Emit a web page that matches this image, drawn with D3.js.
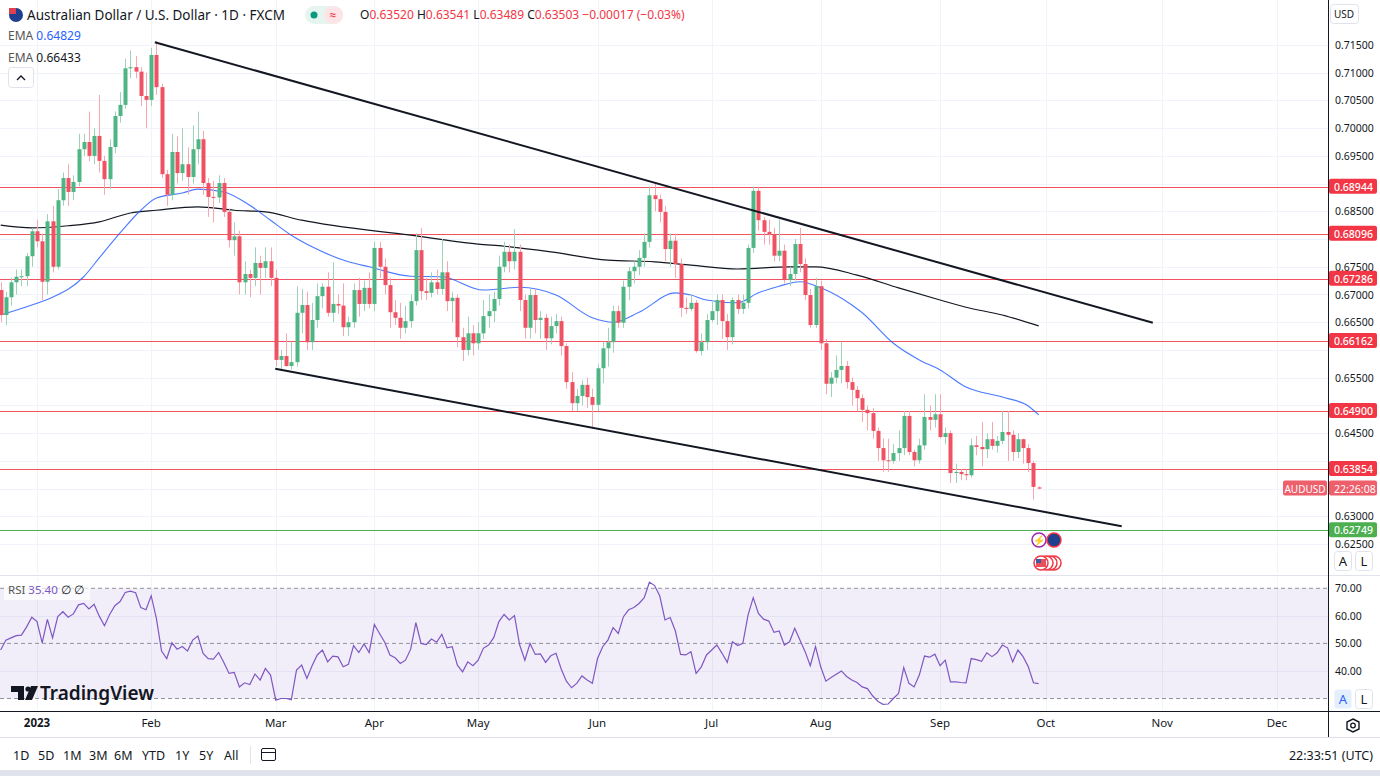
<!DOCTYPE html>
<html><head><meta charset="utf-8">
<script src="https://cdn.jsdelivr.net/npm/d3@7/dist/d3.min.js"></script>
<style>body{margin:0;background:#fff;font-family:"Noto Sans",Roboto,sans-serif}svg{display:block}</style>
</head><body><svg id="c" width="1380" height="776"></svg>
<script>
// ---- DATA ----
// daily candles AUDUSD, index 1 = 2022-12-22 ... index 201 = 2023-09-28 : [open, high, low, close]
const ohlc = [
[.6708,.6722,.6650,.6663],[.6663,.6705,.6645,.6695],[.6695,.6730,.6680,.6722],[.6722,.6745,.6700,.6732],[.6732,.6745,.6715,.6733],[.6733,.6775,.6715,.6769],[.6769,.6820,.6750,.6814],
[.6814,.6835,.6785,.6796],[.6796,.6810,.6690,.6723],[.6723,.6845,.6700,.6832],[.6832,.6860,.6740,.6750],[.6750,.6890,.6745,.6870],[.6870,.6920,.6860,.6910],[.6910,.6935,.6860,.6885],[.6885,.6915,.6870,.6903],[.6903,.6990,.6895,.6962],[.6962,.6990,.6950,.6975],[.6975,.7030,.6940,.6950],[.6950,.7000,.6935,.6986],[.6986,.7060,.6920,.6941],[.6941,.6950,.6880,.6908],[.6908,.6980,.6890,.6966],[.6966,.7030,.6955,.7022],[.7022,.7065,.7010,.7042],[.7042,.7125,.7035,.7108],[.7108,.7140,.7090,.7110],[.7110,.7130,.7090,.7102],[.7102,.7110,.7040,.7058],[.7058,.7100,.7000,.7051],
[.7051,.7145,.7040,.7132],[.7132,.7157,.7060,.7074],[.7074,.7080,.6910,.6917],[.6917,.6925,.6860,.6880],[.6880,.6990,.6870,.6957],[.6957,.6985,.6900,.6919],[.6919,.7000,.6905,.6935],[.6935,.6965,.6880,.6912],[.6912,.7005,.6900,.6962],[.6962,.7030,.6935,.6980],[.6980,.6995,.6880,.6901],[.6901,.6910,.6840,.6876],[.6876,.6905,.6830,.6875],[.6875,.6915,.6865,.6901],[.6901,.6910,.6840,.6849],[.6849,.6855,.6785,.6798],[.6798,.6830,.6770,.6805],[.6805,.6815,.6700,.6722],[.6722,.6760,.6700,.6737],[.6737,.6745,.6695,.6730],
[.6730,.6785,.6715,.6757],[.6757,.6770,.6700,.6748],[.6748,.6785,.6730,.6760],[.6760,.6785,.6715,.6730],[.6730,.6745,.6570,.6582],[.6582,.6600,.6565,.6589],[.6589,.6630,.6570,.6571],[.6571,.6615,.6565,.6578],[.6578,.6715,.6570,.6667],[.6667,.6710,.6630,.6681],[.6681,.6705,.6600,.6614],[.6614,.6685,.6600,.6654],[.6654,.6720,.6640,.6697],[.6697,.6720,.6675,.6714],[.6714,.6740,.6660,.6667],[.6667,.6758,.6650,.6683],[.6683,.6700,.6665,.6680],[.6680,.6720,.6625,.6641],[.6641,.6660,.6625,.6650],[.6650,.6720,.6640,.6708],[.6708,.6730,.6660,.6683],[.6683,.6725,.6670,.6712],[.6712,.6740,.6675,.6683],
[.6683,.6795,.6670,.6784],[.6784,.6795,.6730,.6750],[.6750,.6765,.6700,.6717],[.6717,.6730,.6640,.6668],[.6668,.6690,.6645,.6658],[.6658,.6685,.6620,.6640],[.6640,.6680,.6630,.6652],[.6652,.6700,.6640,.6688],[.6688,.6810,.6680,.6780],[.6780,.6820,.6690,.6706],[.6706,.6730,.6690,.6703],[.6703,.6740,.6695,.6722],[.6722,.6745,.6700,.6710],[.6710,.6800,.6700,.6740],[.6740,.6760,.6670,.6688],[.6688,.6705,.6650,.6694],[.6694,.6700,.6605,.6623],[.6623,.6640,.6580,.6600],[.6600,.6660,.6590,.6630],[.6630,.6645,.6590,.6612],
[.6612,.6650,.6600,.6630],[.6630,.6690,.6620,.6661],[.6661,.6700,.6640,.6670],[.6670,.6705,.6650,.6692],[.6692,.6770,.6680,.6750],[.6750,.6795,.6740,.6777],[.6777,.6790,.6740,.6760],[.6760,.6818,.6745,.6777],[.6777,.6790,.6670,.6690],[.6690,.6700,.6620,.6640],[.6640,.6710,.6620,.6699],[.6699,.6710,.6630,.6654],[.6654,.6670,.6620,.6658],[.6658,.6665,.6600,.6621],[.6621,.6660,.6610,.6643],[.6643,.6665,.6630,.6652],[.6652,.6660,.6590,.6607],[.6607,.6612,.6530,.6542],[.6542,.6560,.6490,.6504],[.6504,.6530,.6490,.6517],[.6517,.6545,.6500,.6537],[.6537,.6550,.6495,.6515],[.6515,.6530,.6458,.6501],
[.6501,.6575,.6490,.6567],[.6567,.6615,.6540,.6603],[.6603,.6640,.6570,.6614],[.6614,.6680,.6595,.6670],[.6670,.6680,.6640,.6649],[.6649,.6725,.6640,.6714],[.6714,.6750,.6690,.6742],[.6742,.6760,.6720,.6750],[.6750,.6780,.6735,.6766],[.6766,.6810,.6750,.6795],[.6795,.6895,.6785,.6879],[.6879,.6900,.6850,.6872],[.6872,.6880,.6830,.6849],[.6849,.6860,.6760,.6782],[.6782,.6810,.6750,.6797],[.6797,.6810,.6730,.6755],[.6755,.6765,.6660,.6676],[.6676,.6695,.6665,.6674],[.6674,.6700,.6670,.6685],[.6685,.6690,.6595,.6598],[.6598,.6630,.6590,.6614],[.6614,.6665,.6600,.6654],
[.6654,.6690,.6650,.6670],[.6670,.6700,.6645,.6690],[.6690,.6700,.6620,.6652],[.6652,.6665,.6600,.6623],[.6623,.6695,.6610,.6690],[.6690,.6700,.6665,.6674],[.6674,.6700,.6665,.6685],[.6685,.6790,.6675,.6784],[.6784,.6895,.6775,.6887],[.6887,.6895,.6815,.6834],[.6834,.6840,.6790,.6813],[.6813,.6835,.6790,.6809],[.6809,.6820,.6760,.6770],[.6770,.6835,.6760,.6779],[.6779,.6790,.6720,.6726],[.6726,.6750,.6715,.6737],[.6737,.6800,.6725,.6791],[.6791,.6820,.6740,.6755],[.6755,.6765,.6690,.6699],[.6699,.6710,.6640,.6645],[.6645,.6730,.6640,.6715],
[.6715,.6725,.6600,.6612],[.6612,.6620,.6520,.6539],[.6539,.6560,.6515,.6550],[.6550,.6590,.6540,.6564],[.6564,.6615,.6540,.6571],[.6571,.6580,.6530,.6542],[.6542,.6550,.6500,.6528],[.6528,.6535,.6490,.6513],[.6513,.6520,.6470,.6492],[.6492,.6500,.6455,.6486],[.6486,.6495,.6440,.6454],[.6454,.6460,.6400,.6423],[.6423,.6440,.6380,.6401],[.6401,.6440,.6380,.6400],[.6400,.6430,.6395,.6414],[.6414,.6455,.6400,.6423],[.6423,.6490,.6410,.6481],[.6481,.6490,.6410,.6416],[.6416,.6420,.6390,.6401],[.6401,.6440,.6395,.6428],[.6428,.6520,.6420,.6479],[.6479,.6500,.6455,.6474],[.6474,.6520,.6460,.6484],
[.6484,.6520,.6440,.6443],[.6443,.6460,.6430,.6450],[.6450,.6455,.6360,.6378],[.6378,.6395,.6360,.6380],[.6380,.6385,.6365,.6376],[.6376,.6385,.6365,.6374],[.6374,.6440,.6370,.6428],[.6428,.6445,.6410,.6425],[.6425,.6470,.6390,.6421],[.6421,.6450,.6405,.6439],[.6439,.6470,.6420,.6427],[.6427,.6445,.6415,.6436],[.6436,.6490,.6430,.6452],[.6452,.6490,.6400,.6447],[.6447,.6455,.6400,.6416],[.6416,.6450,.6405,.6439],[.6439,.6440,.6395,.6423],[.6423,.6430,.6380,.6396],[.6396,.6400,.6330,.6353],[.6352,.6354,.6349,.6350]
];
// EMA lines: [bar index, value]
const emaFast = [[1,.6663],[7,.6681],[11,.6695],[17,.6732],[20,.6766],[24,.6811],[28,.6852],[31,.6874],[36,.6883],[39,.6890],[44,.6885],[49,.6861],[53,.6834],[57,.6807],[61,.6786],[68,.6759],[72,.6750],[80,.6733],[86,.6732],[94,.6708],[101,.6713],[108,.6699],[115,.6658],[119,.6650],[124,.6668],[131,.6703],[134,.6699],[137,.6690],[143,.6685],[147,.6703],[151,.6715],[155,.6723],[159,.6712],[165,.6681],[167,.6667],[173,.6612],[178,.6582],[182,.6564],[187,.6533],[194,.6515],[199,.6499],[201,.64829]];
const emaSlow = [[1,.6825],[7,.6820],[14,.6824],[20,.6831],[26,.6847],[31,.6852],[39,.6858],[46,.6852],[52,.6849],[59,.6834],[80,.6807],[93,.6791],[98,.6787],[107,.6777],[118,.6762],[127,.6759],[134,.6753],[143,.6746],[153,.6750],[158,.6750],[166,.6735],[174,.6712],[182,.6690],[187,.6677],[194,.6663],[201,.66433]];
// RSI(14) per bar, index 1..201
const rsi = [47.6,51.2,52,52.8,53,56,59.5,57.9,50.2,58.7,52,59.7,61.5,59.5,60.7,64,64.5,62.5,64.2,59.9,56.4,60.5,63.7,65.2,68.5,69,68.4,63,62.2,67.3,59.1,47.2,44.5,50.2,47.9,48.9,47.2,51.2,52.7,46.4,44.5,44.3,46.7,43.1,39.1,39.5,34.2,35.7,35.1,38.9,36.7,40.9,38.5,29.4,30,30,29.5,40.3,42.1,37.3,41.9,45.8,47.6,43.3,45.4,45.1,41.5,42.4,49.2,46.7,49.8,46.7,56.9,53.6,50.4,45.8,44.8,42.7,43.9,47.9,57.5,50,49.6,51.6,50.4,53.3,48.4,48.8,42.1,39.7,43.3,41.9,43.9,48.2,49.4,52.1,57.9,60.5,58.5,60.1,49.4,
43.9,50,46,46.2,43.1,45.5,46.4,40.7,36.3,33.9,35.5,38.2,36.7,35.5,44.5,48.8,51.2,55.7,53.6,59.7,62.2,63,64.5,66.6,72.2,71,67.2,58.5,59.4,54.5,46,45.8,47,39.1,41.5,45.8,47.6,49.4,46.4,43.1,50.6,49.2,50,60.3,66.6,60.9,58.8,58.1,54,54.5,49.4,50.6,55.5,51.2,47,41.9,48.8,41.5,36.3,37.6,38.8,40,38,36.7,35.8,34.2,33.6,31,29,27.9,28,30,31.8,41.2,35.5,34.2,38.5,45.4,45,46.1,41.9,43.9,36,36,35.8,35.7,44.5,44.1,43.5,46.6,45.2,46.6,49.4,48.4,43.3,47.6,45.2,41.5,35.7,35.4];
const levels = [.68944,.68096,.67286,.66162,.64900,.63854];
const supportLevel = .62749;
const trendUpper = [[30.7,.7155],[223,.6649]];
const trendLower = [[53.9,.6566],[217,.6282]];
const priceTicks = d3.range(0,19).map(k=>+(0.625+k*0.005).toFixed(3));
const rsiTicks = [70,60,50,40];
const monthTicks = [[8,"2023",true],[30,"Feb"],[54,"Mar"],[73,"Apr"],[93,"May"],[116,"Jun"],[138,"Jul"],[159,"Aug"],[182,"Sep"],[202.4,"Oct"],[224.8,"Nov"],[246.9,"Dec"]];
const ranges = ["1D","5D","1M","3M","6M","YTD","1Y","5Y","All"];

// ---- SCALES ----
const svg = d3.select("#c");
const W=1380, PR=1328;
const x = d3.scaleLinear().domain([8,160]).range([37,37+152*5.19]);
const y = d3.scaleLinear().domain([0.625,0.715]).range([544,45]);
const yr = d3.scaleLinear().domain([30,70]).range([698.5,588.3]);
const UP="#4fb584", DN="#ef5262";
const defs = svg.append("defs");
defs.append("clipPath").attr("id","cp").append("rect").attr("x",0).attr("y",0).attr("width",PR).attr("height",573);
defs.append("clipPath").attr("id","cr").append("rect").attr("x",0).attr("y",577).attr("width",PR).attr("height",133);

// grid
const g = svg.append("g");
g.selectAll(".hg").data(priceTicks).join("line").attr("x1",0).attr("x2",PR).attr("y1",d=>Math.round(y(d))+.5).attr("y2",d=>Math.round(y(d))+.5).attr("stroke","#f0f3fa");
g.selectAll(".rg").data([60,40]).join("line").attr("x1",0).attr("x2",PR).attr("y1",d=>Math.round(yr(d))+.5).attr("y2",d=>Math.round(yr(d))+.5).attr("stroke","#f0f3fa");
g.selectAll(".vg").data(monthTicks).join("line").attr("x1",d=>Math.round(x(d[0]))+.5).attr("x2",d=>Math.round(x(d[0]))+.5).attr("y1",0).attr("y2",710).attr("stroke","#f0f3fa");

// pane separators & axis lines
svg.append("rect").attr("x",0).attr("y",573).attr("width",W).attr("height",4).attr("fill","#fff");
svg.append("line").attr("x1",0).attr("x2",W).attr("y1",575.5).attr("y2",575.5).attr("stroke","#e0e3eb");
svg.append("line").attr("x1",PR+.5).attr("x2",PR+.5).attr("y1",0).attr("y2",737).attr("stroke","#131722");
svg.append("line").attr("x1",0).attr("x2",W).attr("y1",711.5).attr("y2",711.5).attr("stroke","#131722");
svg.append("line").attr("x1",0).attr("x2",W).attr("y1",737.5).attr("y2",737.5).attr("stroke","#e0e3eb");
svg.append("rect").attr("x",0).attr("y",770).attr("width",W).attr("height",6).attr("fill","#e0e3eb");

// main pane
const m = svg.append("g").attr("clip-path","url(#cp)");
levels.forEach(v=>m.append("line").attr("x1",0).attr("x2",PR).attr("y1",Math.round(y(v))+.5).attr("y2",Math.round(y(v))+.5).attr("stroke","#f23645").attr("stroke-width",1).attr("opacity",0.85));
m.append("line").attr("x1",0).attr("x2",PR).attr("y1",Math.round(y(supportLevel))+.5).attr("y2",Math.round(y(supportLevel))+.5).attr("stroke","#4caf50");

const line = d3.line().x(d=>x(d[0])).y(d=>y(d[1])).curve(d3.curveMonotoneX);
m.append("path").attr("d",line(emaSlow)).attr("fill","none").attr("stroke","#131722").attr("stroke-width",1.2);
m.append("path").attr("d",line(emaFast)).attr("fill","none").attr("stroke","#2962ff").attr("stroke-width",1.1).attr("opacity",0.85);

const cd = ohlc.map((d,k)=>({i:k+1,o:d[0],h:d[1],l:d[2],c:d[3]}));
const cg = m.append("g");
cg.selectAll(".w").data(cd).join("line").attr("x1",d=>Math.round(x(d.i))+.5).attr("x2",d=>Math.round(x(d.i))+.5)
 .attr("y1",d=>y(d.h)).attr("y2",d=>y(d.l)).attr("stroke",d=>d.c>=d.o?"#9fd2b6":"#f7a7ae");
cg.selectAll(".b").data(cd).join("rect").attr("x",d=>Math.round(x(d.i))-1.5).attr("width",4)
 .attr("y",d=>y(Math.max(d.o,d.c))).attr("height",d=>Math.max(1,Math.abs(y(d.o)-y(d.c))))
 .attr("fill",d=>d.c>=d.o?UP:DN);

const tl = d3.line().x(d=>x(d[0])).y(d=>y(d[1]));
m.append("path").attr("d",tl(trendUpper)).attr("stroke","#131722").attr("stroke-width",2).attr("fill","none");
m.append("path").attr("d",tl(trendLower)).attr("stroke","#131722").attr("stroke-width",2).attr("fill","none");

// event icons
const ev = m.append("g");
ev.append("circle").attr("cx",1039).attr("cy",540).attr("r",7).attr("fill","#fff").attr("stroke","#9c27b0").attr("stroke-width",1.5);
ev.append("text").attr("x",1039).attr("y",544).attr("text-anchor","middle").attr("font-size",10).attr("fill","#9c27b0").text("⚡");
ev.append("circle").attr("cx",1054).attr("cy",540).attr("r",7).attr("fill","#1f3f8f").attr("stroke","#f23645").attr("stroke-width",1.5);
[1054,1050,1046,1041].forEach(cx=>{ev.append("circle").attr("cx",cx).attr("cy",563).attr("r",7).attr("fill","#fff").attr("stroke","#f23645").attr("stroke-width",1.5);});
ev.append("rect").attr("x",1036).attr("y",559).attr("width",10).attr("height",8).attr("fill","#e8505b");
ev.append("rect").attr("x",1036).attr("y",559).attr("width",5).attr("height",4).attr("fill","#3c5aa6");

// RSI pane
const r = svg.append("g").attr("clip-path","url(#cr)");
r.append("rect").attr("x",0).attr("width",PR).attr("y",yr(70)).attr("height",yr(30)-yr(70)).attr("fill","#7e57c2").attr("opacity",0.1);
[70,50,30].forEach(v=>r.append("line").attr("x1",0).attr("x2",PR).attr("y1",yr(v)).attr("y2",yr(v)).attr("stroke","#787b86").attr("stroke-dasharray","4,3").attr("opacity",0.8));
r.append("path").attr("d",d3.line().x((d,k)=>x(k+1)).y(d=>yr(d))(rsi)).attr("fill","none").attr("stroke","#7e57c2").attr("stroke-width",1.2);

// axes labels
const ax = svg.append("g").attr("font-size",10.5).attr("fill","#131722");
const lastClose = ohlc[ohlc.length-1][3];
const labelled = levels.concat([supportLevel, lastClose]);
priceTicks.filter(v=>labelled.every(l=>Math.abs(y(v)-y(l))>11)).forEach(v=>ax.append("text").attr("x",1335).attr("y",y(v)+4).text(v.toFixed(5)));
rsiTicks.forEach(v=>ax.append("text").attr("x",1335).attr("y",yr(v)+4).text(v.toFixed(2)));
monthTicks.forEach(d=>ax.append("text").attr("x",x(d[0])).attr("y",727).attr("text-anchor","middle").attr("font-weight",d[2]?"bold":null).attr("font-size",11.5).text(d[1]));

// level labels
levels.concat([supportLevel]).forEach(v=>{
  const c = v===supportLevel?"#4caf50":"#f23645";
  svg.append("rect").attr("x",1329).attr("y",y(v)-8).attr("width",48).attr("height",15).attr("rx",2).attr("fill",c);
  svg.append("text").attr("x",1334).attr("y",y(v)+4).attr("font-size",10.5).attr("fill","#fff").attr("font-weight",500).text(v.toFixed(5));
});
svg.append("rect").attr("x",1283).attr("y",y(lastClose)-8).attr("width",44).attr("height",15).attr("rx",2).attr("fill","#ee5f6c");
svg.append("text").attr("x",1305).attr("y",y(lastClose)+4).attr("text-anchor","middle").attr("font-size",10).attr("fill","#fff").text("AUDUSD");
svg.append("rect").attr("x",1329).attr("y",y(lastClose)-8).attr("width",48).attr("height",15).attr("rx",2).attr("fill","#ee5f6c");
svg.append("text").attr("x",1334).attr("y",y(lastClose)+4).attr("font-size",10.5).attr("fill","#fff").text("22:26:08");

// right top / buttons
svg.append("rect").attr("x",1330.5).attr("y",4.5).attr("width",28).attr("height",19).attr("rx",3).attr("fill","#fff").attr("stroke","#e0e3eb");
svg.append("text").attr("x",1334).attr("y",18).attr("font-size",10).attr("fill","#131722").text("USD");
[[561,false],[699,true]].forEach(([cy,act])=>{
  [["A",1343],["L",1364]].forEach(([t,cx],k)=>{
    svg.append("rect").attr("x",cx-8.5).attr("y",cy-9.5).attr("width",17).attr("height",19).attr("rx",3).attr("fill",act&&k===0?"#e3effd":"#fff").attr("stroke",act&&k===0?"none":"#e0e3eb");
    svg.append("text").attr("x",cx).attr("y",cy+5).attr("text-anchor","middle").attr("font-size",13).attr("fill",act&&k===0?"#2962ff":"#131722").text(t);
  });
});
svg.append("polygon").attr("points","1353,719 1359,722 1359,729 1353,732 1347,729 1347,722").attr("fill","none").attr("stroke","#131722").attr("stroke-width",1.4);
svg.append("circle").attr("cx",1353).attr("cy",725.5).attr("r",2.3).attr("fill","none").attr("stroke","#131722").attr("stroke-width",1.3);

// header
const h = svg.append("g");
h.append("circle").attr("cx",16).attr("cy",15).attr("r",7).attr("fill","#1f3f8f");
h.append("rect").attr("x",9).attr("y",8).attr("width",7).attr("height",6).attr("fill","#e04050");
h.append("text").attr("x",27).attr("y",19.5).attr("font-size",13.5).attr("fill","#131722").text("Australian Dollar / U.S. Dollar · 1D · FXCM");
h.append("rect").attr("x",305).attr("y",6).attr("width",38).attr("height",18).attr("rx",9).attr("fill","#e6f5ef");
h.append("rect").attr("x",324).attr("y",6).attr("width",19).attr("height",18).attr("rx",9).attr("fill","#fde4e7");
h.append("circle").attr("cx",314).attr("cy",15).attr("r",3.5).attr("fill","#089981");
h.append("text").attr("x",333).attr("y",19).attr("text-anchor","middle").attr("font-size",12).attr("fill","#f23645").text("≈");
const ot = h.append("text").attr("x",360).attr("y",19).attr("font-size",12);
[["O","0.63520"],["H","0.63541"],["L","0.63489"],["C","0.63503"]].forEach(([a,b])=>{ot.append("tspan").attr("fill","#131722").text(a);ot.append("tspan").attr("fill","#f23645").text(b+" ");});
ot.append("tspan").attr("fill","#f23645").text("−0.00017 (−0.03%)");
h.append("text").attr("x",8).attr("y",40).attr("font-size",12).attr("fill","#555").text("EMA ").append("tspan").attr("fill","#2962ff").text("0.64829");
h.append("text").attr("x",8).attr("y",62).attr("font-size",12).attr("fill","#555").text("EMA ").append("tspan").attr("fill","#131722").text("0.66433");
h.append("rect").attr("x",8.5).attr("y",67.5).attr("width",25).attr("height",20).attr("rx",3).attr("fill","#fff").attr("stroke","#e0e3eb");
h.append("path").attr("d","M17,80 L21,76 L25,80").attr("fill","none").attr("stroke","#131722").attr("stroke-width",1.3);
h.append("rect").attr("x",4).attr("y",581).attr("width",86).attr("height",19).attr("fill","#fff").attr("opacity",0.7);
h.append("text").attr("x",8).attr("y",594).attr("font-size",11.5).attr("fill","#555").text("RSI ").append("tspan").attr("fill","#7e57c2").text("35.40 ").append("tspan").attr("fill","#131722").text("∅ ∅");

// TradingView logo
const lg = svg.append("g").attr("fill","#131722");
lg.append("path").attr("d","M11,686 h13 v14 h-6 v-8 h-7 z");
lg.append("circle").attr("cx",28).attr("cy",689).attr("r",2.6);
lg.append("path").attr("d","M31,686 h7 l-6,14 h-7 z");
lg.append("text").attr("x",40).attr("y",700).attr("font-size",19).attr("font-weight",600).text("TradingView");

// bottom toolbar
const bt = svg.append("g").attr("font-size",12.5).attr("fill","#131722");
const bx = [13,38,63,89,114,142,175,199,224];
ranges.forEach((t,k)=>bt.append("text").attr("x",bx[k]).attr("y",760).text(t));
bt.append("line").attr("x1",250.5).attr("x2",250.5).attr("y1",746).attr("y2",764).attr("stroke","#e0e3eb");
bt.append("rect").attr("x",261.5).attr("y",748.5).attr("width",14).attr("height",12).attr("rx",1.5).attr("fill","none").attr("stroke","#131722");
bt.append("line").attr("x1",261.5).attr("x2",275.5).attr("y1",752.5).attr("y2",752.5).attr("stroke","#131722");
bt.append("text").attr("x",1373).attr("y",760).attr("text-anchor","end").attr("font-size",12.5).text("22:33:51 (UTC)");
</script></body></html>
